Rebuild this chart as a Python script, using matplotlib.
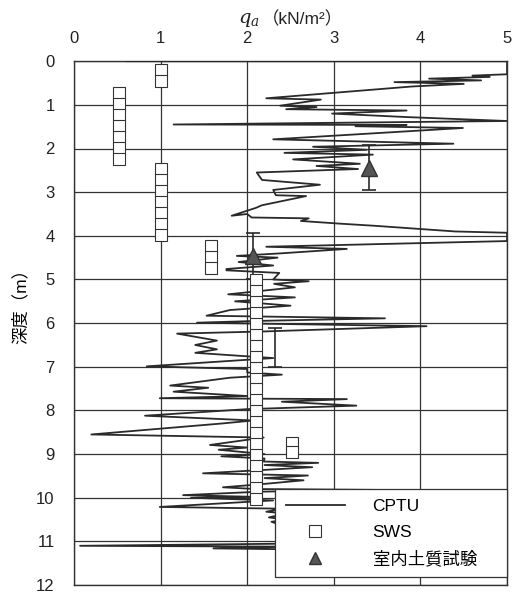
import numpy as np
import matplotlib.pyplot as plt

plt.rcParams['font.family'] = ['Liberation Sans', 'Noto Sans CJK JP', 'DejaVu Sans']
plt.rcParams['mathtext.fontset'] = 'dejavuserif'

# CPTU qa profile (depth m, qa kN/m2)
cptu_depth = [0.00, 0.00, 0.30, 0.33, 0.36, 0.40, 0.44, 0.48, 0.52, 0.58,
              0.85, 0.88, 1.02, 1.05, 1.10, 1.13, 1.20, 1.28, 1.37, 1.45,
              1.46, 1.49, 1.53, 1.79, 1.89, 1.96, 2.03, 2.10, 2.14, 2.25,
              2.35, 2.40, 2.47, 2.55, 2.72, 2.83, 2.95, 3.07, 3.09, 3.30,
              3.36, 3.54, 3.50, 3.58, 3.60, 3.66, 3.72, 3.77, 3.83, 3.90,
              3.93, 4.12, 4.25, 4.30, 4.40, 4.46, 4.50, 4.60, 4.68, 4.76,
              4.79, 4.85, 5.00, 5.04, 5.10, 5.18, 5.34, 5.41, 5.50, 5.60,
              5.70, 5.83, 5.89, 5.95, 5.99, 6.07, 6.19, 6.24, 6.40, 6.50,
              6.60, 6.68, 6.80, 6.99, 7.05, 7.13, 7.18, 7.25, 7.43, 7.48,
              7.57, 7.67, 7.72, 7.74, 7.80, 7.89, 7.97, 8.12, 8.23, 8.30,
              8.55, 8.62, 8.70, 8.79, 8.85, 8.90, 9.00, 9.05, 9.10, 9.17,
              9.20, 9.25, 9.30, 9.44, 9.49, 9.55, 9.60, 9.70, 9.76, 9.80,
              9.82, 9.86, 9.94, 9.98, 10.00, 10.06, 10.21, 10.25, 10.32, 10.36,
              10.45, 10.50, 10.55, 10.70, 11.05, 11.10, 11.12, 11.16, 11.18, 11.25]
cptu_qa = [0.60, 5.00, 5.00, 4.60, 4.80, 4.10, 4.70, 3.70, 4.50, 3.90,
           2.22, 2.85, 2.38, 2.80, 2.45, 3.84, 2.98, 3.84, 5.00, 1.15,
           3.84, 3.25, 4.49, 2.30, 4.38, 2.76, 3.38, 2.43, 3.45, 2.53,
           3.30, 2.80, 3.28, 2.11, 2.17, 2.84, 2.30, 2.33, 2.68, 2.17,
           2.10, 1.82, 2.00, 2.05, 2.71, 2.62, 3.06, 3.47, 3.90, 4.40,
           5.00, 5.00, 2.22, 3.15, 2.40, 1.88, 2.35, 1.90, 2.30, 1.76,
           1.76, 2.37, 2.30, 2.71, 2.31, 2.55, 1.78, 2.55, 1.86, 2.50,
           1.80, 1.53, 3.59, 2.10, 1.42, 4.07, 2.20, 1.19, 1.65, 1.40,
           1.65, 1.40, 2.30, 0.84, 2.00, 2.00, 2.40, 1.80, 1.11, 1.55,
           1.15, 2.00, 0.99, 3.15, 2.40, 3.26, 2.00, 0.82, 2.07, 1.70,
           0.20, 2.19, 1.90, 1.57, 2.00, 1.67, 2.20, 1.70, 2.20, 2.19,
           2.82, 2.20, 2.75, 1.49, 2.70, 2.20, 2.65, 2.10, 1.72, 2.10,
           3.53, 2.15, 1.26, 2.10, 1.35, 2.30, 0.99, 2.40, 2.22, 2.45,
           2.25, 2.45, 2.28, 2.50, 2.50, 0.07, 2.50, 1.61, 2.50, 2.60]

# SWS results
sws_qa = [1.0, 1.0,
          0.52, 0.52, 0.52, 0.52, 0.52, 0.52, 0.52,
          1.0, 1.0, 1.0, 1.0, 1.0, 1.0, 1.0,
          1.58, 1.58, 1.58] + [2.1] * 21 + [2.52, 2.52]
sws_depth = [0.21, 0.46,
             0.73, 0.98, 1.23, 1.48, 1.73, 1.98, 2.23,
             2.48, 2.73, 2.98, 3.23, 3.48, 3.73, 3.98,
             4.23, 4.48, 4.73] + [5.02 + 0.25 * i for i in range(21)] + [8.74, 8.96]

# laboratory tests
lab_qa = [3.41, 2.07]
lab_depth = [2.44, 4.46]
lab_err = [0.52, 0.53]
lab2_qa = [2.32]
lab2_depth = [6.55]
lab2_err = [0.45]

fig = plt.figure(figsize=(5.19, 5.94), dpi=100)
ax = fig.add_axes([0.1426, 0.015, 0.8344, 0.882])

ax.plot(cptu_qa, cptu_depth, color='#2a2a2a', lw=1.3, zorder=3)
ax.errorbar(lab_qa, lab_depth, yerr=lab_err, fmt='^', color='#2a2a2a',
            mfc='#555555', mec='#333333', ms=12, capsize=5, elinewidth=1.2,
            capthick=1.2, zorder=4)
ax.errorbar(lab2_qa, lab2_depth, yerr=lab2_err, fmt='none', color='#2a2a2a',
            capsize=5, elinewidth=1.2, capthick=1.2, zorder=4)
ax.plot(sws_qa, sws_depth, 's', ms=8, mfc='white', mec='#333333', mew=0.8,
        zorder=5)

ax.set_xlim(0, 5)
ax.set_ylim(12, 0)
ax.set_xticks(range(6))
ax.set_yticks(range(13))
ax.xaxis.tick_top()
ax.tick_params(length=0, labelsize=12, colors='#222222')
ax.tick_params(axis='x', pad=11)
ax.tick_params(axis='y', pad=14)
ax.grid(True, color='#333333', lw=0.9)
for s in ax.spines.values():
    s.set_color('#333333')
    s.set_linewidth(1.0)

# x label in two pieces (math q_a + full-width parentheses)
fig.text(0.458, 0.966, r'$\mathit{q}_a$', fontsize=14, ha='left', va='center',
         color='#222222')
fig.text(0.505, 0.968, '（kN/m²）', fontsize=12.5, ha='left', va='center',
         color='#222222')
ax.set_ylabel('深度（m）', fontsize=12.5)
ax.yaxis.set_label_coords(-0.105, 0.54)

# legend
h1, = ax.plot([], [], color='#2a2a2a', lw=1.3)
h2, = ax.plot([], [], 's', ms=8, mfc='white', mec='#333333', mew=0.8)
h3, = ax.plot([], [], '^', ms=9, mfc='#555555', mec='#333333')
leg = ax.legend([h1, h2, h3], ['CPTU', 'SWS', '室内土質試験'],
                loc='lower left', bbox_to_anchor=(0.465, 0.015, 0.535, 0.16),
                mode='expand', fontsize=12.5, frameon=True, fancybox=False,
                framealpha=1, edgecolor='#333333', handlelength=3.4,
                handletextpad=1.6, borderpad=0.6, labelspacing=0.6,
                borderaxespad=0)
leg.get_frame().set_linewidth(0.9)
leg.set_zorder(10)

fig.savefig('out.png', dpi=100)
